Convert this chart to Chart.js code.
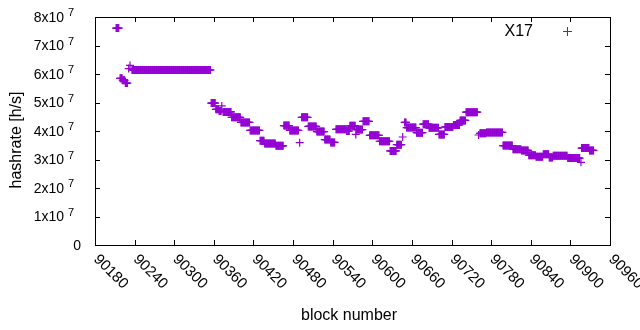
<!DOCTYPE html>
<html>
<head>
<meta charset="utf-8">
<script src="https://cdn.jsdelivr.net/npm/chart.js@4/dist/chart.umd.min.js"></script>
<style>
  html,body{margin:0;padding:0;background:#fff;}
  #wrap{width:640px;height:330px;}
</style>
</head>
<body>
<div id="wrap"><canvas id="c"></canvas></div>
<script>
// runs of blocks sharing one hashrate value
const runStart = [90212,90218,90222,90226,90231,90233,90236,90356,90363,90368,90372,90374,90387,90401,90415,90430,90437,90454,90466,90475,90490,90493,90503,90516,90528,90537,90545,90561,90566,90575,90576,90586,90596,90611,90627,90637,90646,90649,90652,90667,90677,90686,90701,90710,90723,90733,90742,90761,90763,90773,90798,90813,90826,90837,90848,90859,90868,90874,90896,90916,90917,90929];
const runEnd   = [90216,90221,90225,90229,90231,90233,90355,90362,90367,90371,90372,90386,90400,90414,90429,90436,90453,90465,90474,90488,90490,90502,90515,90527,90536,90543,90560,90565,90574,90575,90585,90595,90610,90626,90636,90644,90646,90651,90666,90676,90685,90700,90709,90722,90732,90741,90759,90761,90772,90797,90812,90825,90836,90847,90858,90867,90873,90895,90914,90916,90928,90935];
const runValue = [7.61e7,5.85e7,5.78e7,5.68e7,6.19e7,6.30e7,6.14e7,4.98e7,4.76e7,4.70e7,4.88e7,4.67e7,4.48e7,4.30e7,4.02e7,3.66e7,3.56e7,3.48e7,4.19e7,4.02e7,3.59e7,4.48e7,4.16e7,3.98e7,3.70e7,3.60e7,4.06e7,4.00e7,4.18e7,3.88e7,4.05e7,4.34e7,3.85e7,3.64e7,3.30e7,3.52e7,3.79e7,4.30e7,4.12e7,3.94e7,4.24e7,4.11e7,3.88e7,4.14e7,4.21e7,4.37e7,4.66e7,3.86e7,3.92e7,3.95e7,3.49e7,3.36e7,3.32e7,3.15e7,3.10e7,3.18e7,3.07e7,3.13e7,3.05e7,2.90e7,3.40e7,3.32e7];

const xTicks = [90180,90240,90300,90360,90420,90480,90540,90600,90660,90720,90780,90840,90900,90960];
const yTicks = [0,1e7,2e7,3e7,4e7,5e7,6e7,7e7,8e7];
const seriesName = 'X17';

const PURPLE = '#9400d3';
const FONT = '"Liberation Sans", Arial, sans-serif';

const pts = [];
runStart.forEach((s,i)=>{ for(let b=s;b<=runEnd[i];b++) pts.push({x:b,y:runValue[i]}); });

const gnuplotFrame = {
  id:'gnuplotFrame',
  afterDraw(chart){
    const {ctx, chartArea:a, scales:{x,y}} = chart;
    const T = 5;
    ctx.save();
    ctx.strokeStyle = '#000'; ctx.lineWidth = 1;
    ctx.strokeRect(a.left+0.5, a.top+0.5, a.right-a.left, a.bottom-a.top);
    ctx.beginPath();
    xTicks.forEach(v=>{
      const px = Math.round(x.getPixelForValue(v))+0.5;
      ctx.moveTo(px,a.bottom); ctx.lineTo(px,a.bottom-T);
      ctx.moveTo(px,a.top); ctx.lineTo(px,a.top+T);
    });
    yTicks.forEach(v=>{
      const py = Math.round(y.getPixelForValue(v))+0.5;
      ctx.moveTo(a.left,py); ctx.lineTo(a.left+T,py);
      ctx.moveTo(a.right,py); ctx.lineTo(a.right-T,py);
    });
    ctx.stroke();

    ctx.fillStyle = '#000';
    // x tick labels, rotated -45 in gnuplot terms
    ctx.font = '15px '+FONT;
    ctx.textAlign = 'left'; ctx.textBaseline = 'middle';
    xTicks.forEach(v=>{
      const px = x.getPixelForValue(v);
      ctx.save();
      ctx.translate(px+1, a.bottom+12);
      ctx.rotate(Math.PI/4);
      ctx.fillText(String(v),0,0);
      ctx.restore();
    });
    // y tick labels with superscript exponent
    yTicks.forEach(v=>{
      const py = y.getPixelForValue(v);
      if(v===0){
        ctx.font = '14px '+FONT; ctx.textAlign='right';
        ctx.fillText('0', a.left-14, py+1);
        return;
      }
      ctx.font = '14px '+FONT; ctx.textAlign='right';
      ctx.fillText((v/1e7)+'x10', a.left-31, py+1);
      ctx.font = '11px '+FONT; ctx.textAlign='left';
      ctx.fillText('7', a.left-27, py-4);
    });
    // axis titles
    ctx.font = '16px '+FONT;
    ctx.textAlign = 'center';
    ctx.fillText('block number', 349, 316);
    ctx.save();
    ctx.translate(17,140);
    ctx.rotate(-Math.PI/2);
    ctx.fillText('hashrate [h/s]',0,0);
    ctx.restore();
    // key
    ctx.textAlign='right';
    ctx.fillText(chart.data.datasets[0].label, 533, 32);
    ctx.strokeStyle = PURPLE;
    ctx.beginPath();
    ctx.moveTo(563,31.5); ctx.lineTo(572,31.5);
    ctx.moveTo(567.5,27); ctx.lineTo(567.5,36);
    ctx.stroke();
    ctx.restore();
  }
};

new Chart(document.getElementById('c'),{
  type:'scatter',
  data:{datasets:[{label:seriesName,data:pts,pointStyle:'cross',pointRadius:4,pointHoverRadius:4,borderColor:PURPLE,backgroundColor:PURPLE,borderWidth:1.2}]},
  options:{
    responsive:true,maintainAspectRatio:false,animation:false,
    layout:{padding:{left:95,top:17,right:30,bottom:85}},
    plugins:{legend:{display:false},tooltip:{enabled:false}},
    scales:{
      x:{type:'linear',display:false,min:90180,max:90960},
      y:{type:'linear',display:false,min:0,max:8e7}
    }
  },
  plugins:[gnuplotFrame]
});
</script>
</body>
</html>
